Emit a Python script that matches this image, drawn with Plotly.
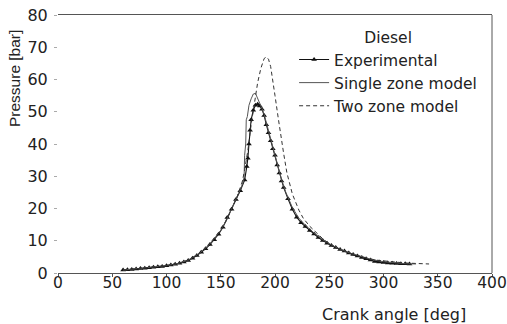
import plotly.graph_objects as go

# ---------------- data ----------------
exp_angle = [60, 64, 68, 72, 76, 80, 84, 88, 92, 96, 100, 104, 108, 112, 116, 120,
             124, 128, 132, 136, 140, 144, 148, 152, 156, 160, 164, 168, 172, 174,
             175, 176, 177, 178, 180, 182, 184, 186, 188, 190, 192, 194, 196, 198,
             200, 202, 204, 206, 208, 212, 216, 220, 224, 228, 232, 236, 240, 244,
             248, 252, 256, 260, 264, 268, 272, 276, 280, 284, 288, 292, 296, 300,
             304, 308, 312, 316, 320, 324]
exp_pressure = [0.9, 1.0, 1.1, 1.25, 1.4, 1.5, 1.6, 1.75, 1.9, 2.05, 2.25, 2.45, 2.7, 3.0, 3.4, 3.9,
                4.6, 5.4, 6.4, 7.5, 8.8, 10.3, 12.0, 14.2, 17.2, 19.8, 22.8, 25.5, 28.8, 33.0,
                35.6, 40.0, 44.3, 47.5, 50.5, 52.0, 52.3, 51.8, 50.8, 48.8, 46.0, 43.5, 41.0, 38.5,
                36.5, 33.5, 31.0, 28.5, 26.5, 23.0, 19.8, 17.3, 15.6, 14.4, 13.2, 12.1, 11.0, 10.1,
                9.2, 8.5, 7.9, 7.3, 6.8, 6.2, 5.7, 5.3, 4.8, 4.4, 4.0, 3.6, 3.4, 3.25,
                3.1, 3.0, 2.95, 2.9, 2.85, 2.8]

single_angle = [60, 70, 80, 90, 100, 110, 120, 130, 140, 150, 155, 160, 165, 170, 171.5,
                172, 173, 173.5, 174.5, 176, 178, 180, 182, 184, 186, 188, 190, 194, 198,
                202, 206, 210, 216, 222, 228, 236, 244, 252, 260, 270, 280, 290, 300, 310,
                320, 330]
single_pressure = [0.9, 1.2, 1.5, 1.85, 2.3, 2.9, 4.0, 6.0, 9.0, 13.2, 16.2, 19.8, 23.5, 27.5, 29.5,
                   36.5, 40.0, 47.5, 48.5, 52.0, 54.0, 55.5, 55.7, 54.3, 52.5, 51.0, 49.2, 44.0, 39.0,
                   34.0, 29.0, 25.0, 20.3, 17.0, 14.8, 12.4, 10.3, 8.7, 7.4, 6.1, 5.0, 4.1, 3.5, 3.1,
                   2.9, 2.8]

two_angle = [60, 70, 80, 90, 100, 110, 120, 130, 140, 150, 155, 160, 165, 168, 170, 172,
             175, 178, 181, 184, 187, 190, 192, 194, 196, 198, 200, 203, 206, 208, 211,
             216, 222, 226, 232, 238, 245, 253, 262, 270, 280, 293, 305, 320, 342]
two_pressure = [0.9, 1.2, 1.5, 1.85, 2.3, 2.9, 4.0, 6.0, 9.0, 13.2, 16.2, 19.8, 23.5, 26.5, 28.5, 32.0,
                38.0, 46.0, 53.0, 59.0, 63.5, 66.5, 67.0, 66.3, 64.0, 60.0, 55.0, 48.0, 41.0, 37.0, 31.0,
                24.5, 19.5, 17.0, 14.5, 12.5, 10.3, 8.5, 7.0, 6.0, 5.0, 4.0, 3.5, 3.1, 2.8]

x_ticks = [0, 50, 100, 150, 200, 250, 300, 350, 400]
y_ticks = [0, 10, 20, 30, 40, 50, 60, 70, 80]

FONT = "DejaVu Sans, sans-serif"
FONT_V = "Liberation Sans, Arial, sans-serif"
AXIS_COLOR = "#555555"

fig = go.Figure()
fig.add_trace(go.Scatter(
    x=exp_angle, y=exp_pressure, name="Experimental", mode="lines+markers",
    line=dict(color="#111111", width=1.1),
    marker=dict(symbol="triangle-up", size=5, color="#111111"),
))
fig.add_trace(go.Scatter(
    x=single_angle, y=single_pressure, name="Single zone model", mode="lines",
    line=dict(color="#555555", width=1),
))
fig.add_trace(go.Scatter(
    x=two_angle, y=two_pressure, name="Two zone model", mode="lines",
    line=dict(color="#333333", width=1, dash="4px,3px"),
))

fig.update_layout(
    width=507, height=324,
    margin=dict(l=58, r=15, t=15, b=51, autoexpand=False),
    paper_bgcolor="white", plot_bgcolor="white",
    font=dict(family=FONT, size=16, color="#222222"),
    showlegend=True,
    legend=dict(
        x=0.544, y=0.97, xanchor="left", yanchor="top",
        bgcolor="rgba(0,0,0,0)", borderwidth=0,
        font=dict(size=15.5),
        itemwidth=30, tracegroupgap=0,
        title=dict(text="Diesel", side="top center", font=dict(size=15.5)),
    ),
    xaxis=dict(
        range=[0, 400], tickvals=x_ticks, showgrid=False, zeroline=False,
        showline=True, linecolor=AXIS_COLOR, linewidth=1, mirror=True,
        ticks="outside", ticklen=3, tickcolor=AXIS_COLOR, automargin=False,
        ticklabelstandoff=-8, ticklabeloverflow="allow", tickfont=dict(size=15.5),
    ),
    yaxis=dict(
        range=[0, 80], tickvals=y_ticks, showgrid=False, zeroline=False,
        showline=False,
        ticks="outside", ticklen=3, tickcolor="#aaaaaa", ticklabelstandoff=3,
        automargin=False,
    ),
    shapes=[
        dict(type="line", xref="paper", yref="paper", x0=1, x1=1, y0=0, y1=1,
             line=dict(color=AXIS_COLOR, width=1)),
    ],
    annotations=[
        dict(text="Crank angle [deg]", xref="paper", yref="paper", x=0.945, y=-0.115,
             xanchor="right", yanchor="top", showarrow=False, font=dict(size=16)),
        dict(text="Pressure [bar]", xref="paper", yref="paper", x=-0.099, y=0.752,
             xanchor="center", yanchor="middle", textangle=-90, showarrow=False,
             font=dict(family=FONT_V, size=15.5)),
    ],
)

fig.write_html("out.html")
